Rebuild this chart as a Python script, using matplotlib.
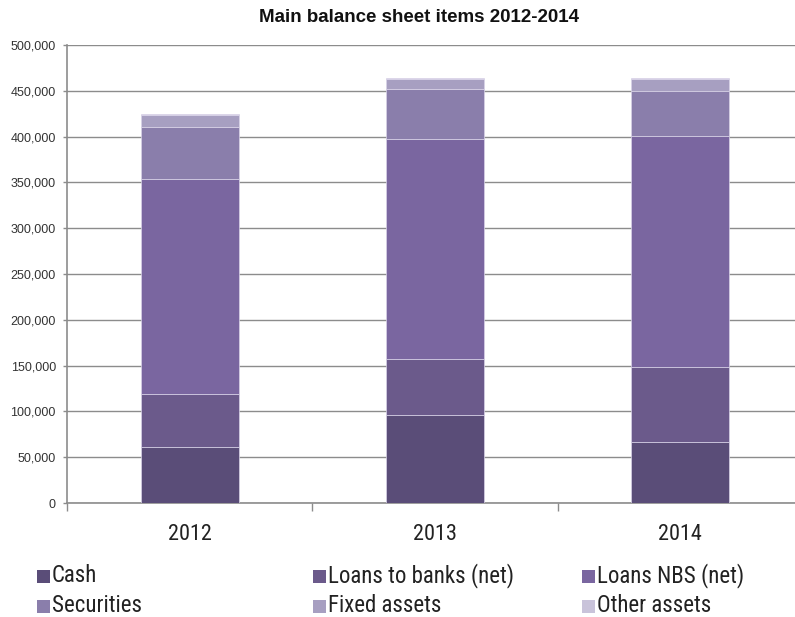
import matplotlib
matplotlib.use("Agg")
import matplotlib.pyplot as plt
from matplotlib.patches import Rectangle
from matplotlib.ticker import FuncFormatter, FixedLocator
import numpy as np

years = ["2012", "2013", "2014"]
series_names = ["Cash", "Loans to banks (net)", "Loans NBS (net)",
                "Securities", "Fixed assets", "Other assets"]
cash = [61500, 96000, 66300]
loans_banks = [57800, 60900, 81800]
loans_nbs = [234100, 240200, 252200]
securities = [57400, 54500, 49500]
fixed_assets = [12800, 11000, 12800]
other_assets = [1000, 1400, 1400]
y_ticks = list(range(0, 500001, 50000))

colors = ["#5a4d78", "#6b5a8b", "#7a66a0", "#8a7eab", "#a79fc1", "#c9c3da"]

narrow = ["Roboto Condensed", "Liberation Sans"]

W, H = 795, 617
fig = plt.figure(figsize=(W / 100, H / 100), dpi=100)
ax_left, ax_right, ax_top, ax_bottom = 67, 803, 45, 503
ax = fig.add_axes([ax_left / W, (H - ax_bottom) / H,
                   (ax_right - ax_left) / W, (ax_bottom - ax_top) / H])

x = np.arange(len(years))
data = [cash, loans_banks, loans_nbs, securities, fixed_assets, other_assets]
bottom = np.zeros(len(years))
for vals, col in zip(data, colors):
    ax.bar(x, vals, width=0.40, bottom=bottom, color=col,
           edgecolor="#d9d3e8", linewidth=0.5, zorder=3)
    bottom += np.array(vals)

ax.set_xlim(-0.5, 2.5)
ax.set_ylim(0, 500000)

ax.yaxis.set_major_locator(FixedLocator(y_ticks))
ax.yaxis.set_major_formatter(FuncFormatter(lambda v, p: f"{int(v):,}"))
ax.grid(axis="y", color="#8c8c8c", linewidth=1.0, zorder=0)
for lab in ax.get_yticklabels():
    lab.set_fontfamily("Liberation Sans")
    lab.set_fontsize(9)
    lab.set_color("#333333")
ax.tick_params(axis="y", direction="out", length=3, width=1, color="#8c8c8c", pad=5)

ax.set_xticks(x)
ax.set_xticklabels(years, fontfamily=narrow, fontsize=16, color="#222222")
ax.set_xticks([-0.5, 0.5, 1.5, 2.5], minor=True)
ax.tick_params(axis="x", which="major", length=0, pad=15)
ax.tick_params(axis="x", which="minor", direction="out", length=6, width=1, color="#8c8c8c")

for side in ["top", "right"]:
    ax.spines[side].set_visible(False)
for side in ["left", "bottom"]:
    ax.spines[side].set_color("#8c8c8c")
    ax.spines[side].set_linewidth(1.2)

fig.text(419 / W, 1 - 17 / H, "Main balance sheet items 2012-2014",
         ha="center", va="center", fontfamily="Liberation Sans",
         fontweight="bold", fontsize=13.5, color="#111111")

# legend: three columns, two rows
col_x = [37, 313, 582]
row_y = [576, 606]
sq = 13
for i, (name, col) in enumerate(zip(series_names, colors)):
    r, c = divmod(i, 3)
    cx, cy = col_x[c], row_y[r]
    fig.patches.append(Rectangle((cx / W, 1 - (cy + sq / 2) / H), sq / W, sq / H,
                                 transform=fig.transFigure, facecolor=col,
                                 edgecolor="none"))
    fig.text((cx + sq + 2) / W, 1 - cy / H, name, ha="left", va="center",
             fontfamily=narrow, fontsize=16.5, color="#222222")

fig.savefig("out.png", dpi=100)
